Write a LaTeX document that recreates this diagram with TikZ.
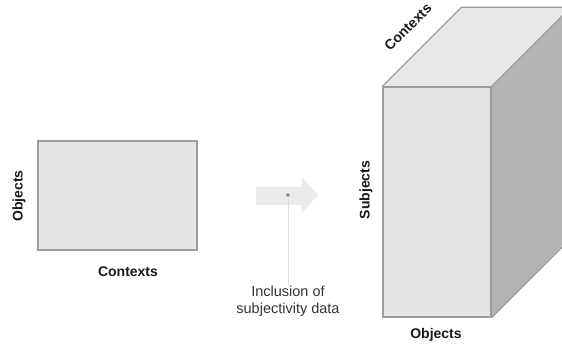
\documentclass[tikz,border=0pt]{standalone}
\usepackage{fontspec}
\setmainfont{Liberation Sans}
\usepackage{xcolor}
\usetikzlibrary{positioning}
\definecolor{ink}{HTML}{1A1A1A}
\definecolor{mutedInk}{HTML}{333333}
\definecolor{edgeGray}{HTML}{9C9C9C}
\definecolor{faceGray}{HTML}{E4E4E4}
\definecolor{topGray}{HTML}{E9E9E9}
\definecolor{sideGray}{HTML}{B4B4B4}
\definecolor{arrowGray}{HTML}{EBEBEB}
\definecolor{dotGray}{HTML}{858585}
\definecolor{leaderGray}{HTML}{DCDCDC}
\tikzset{
  matrix face/.style={
    draw=edgeGray,
    fill=faceGray,
    line width=1.3pt,
    inner sep=0pt
  },
  cube face/.style={
    draw=edgeGray,
    line width=1.3pt,
    line join=round
  },
  axis label/.style={
    font=\fontsize{14}{17}\selectfont\bfseries,
    text=ink,
    inner sep=0pt
  },
  note label/.style={
    font=\fontsize{14.5}{17}\selectfont,
    text=mutedInk,
    align=center,
    inner sep=1pt
  },
  leader edge/.style={
    draw=leaderGray,
    line width=0.8pt
  }
}
\begin{document}
\begin{tikzpicture}[x=1pt,y=-1pt]
  \useasboundingbox (0,0) rectangle (562,347);

  % two-way table
  \node[matrix face,minimum width=159pt,minimum height=109pt] (table) at (117.5,195.5) {};
  \node[axis label,rotate=90] (tableRows) at (19,196) {Objects};
  \node[axis label] (tableCols) at (128,272) {Contexts};

  % transition arrow
  \fill[arrowGray] (256,187) -- (302,187) -- (302,177) -- (318,195)
    -- (302,213) -- (302,205) -- (256,205) -- cycle;
  \coordinate (pin) at (288,195);
  \node[note label] (inclusion) at (288,301) {Inclusion of\\subjectivity data};
  \draw[leader edge] (pin) -- (inclusion.north);
  \fill[dotGray] (pin) circle (1.8pt);

  % three-way cube
  \node[matrix face,minimum width=108pt,minimum height=230pt] (front) at (437,202) {};
  \fill[topGray] (front.north west) -- ++(79,-79) -- ++(108,0) -- (front.north east) -- cycle;
  \fill[sideGray] (front.north east) -- ++(79,-79) -- ++(0,230) -- (front.south east) -- cycle;
  \draw[cube face] (front.north west) -- ++(79,-79) -- ++(108,0);
  \draw[cube face] (front.north east) -- ++(79,-79);
  \draw[cube face] (front.south east) -- ++(79,-79);
  \draw[cube face] (front.north west) rectangle (front.south east);
  \node[axis label,rotate=45] (cubeDepth) at (408,27) {Contexts};
  \node[axis label,rotate=90] (cubeRows) at (366,190) {Subjects};
  \node[axis label] (cubeCols) at (436,335) {Objects};
\end{tikzpicture}
\end{document}
